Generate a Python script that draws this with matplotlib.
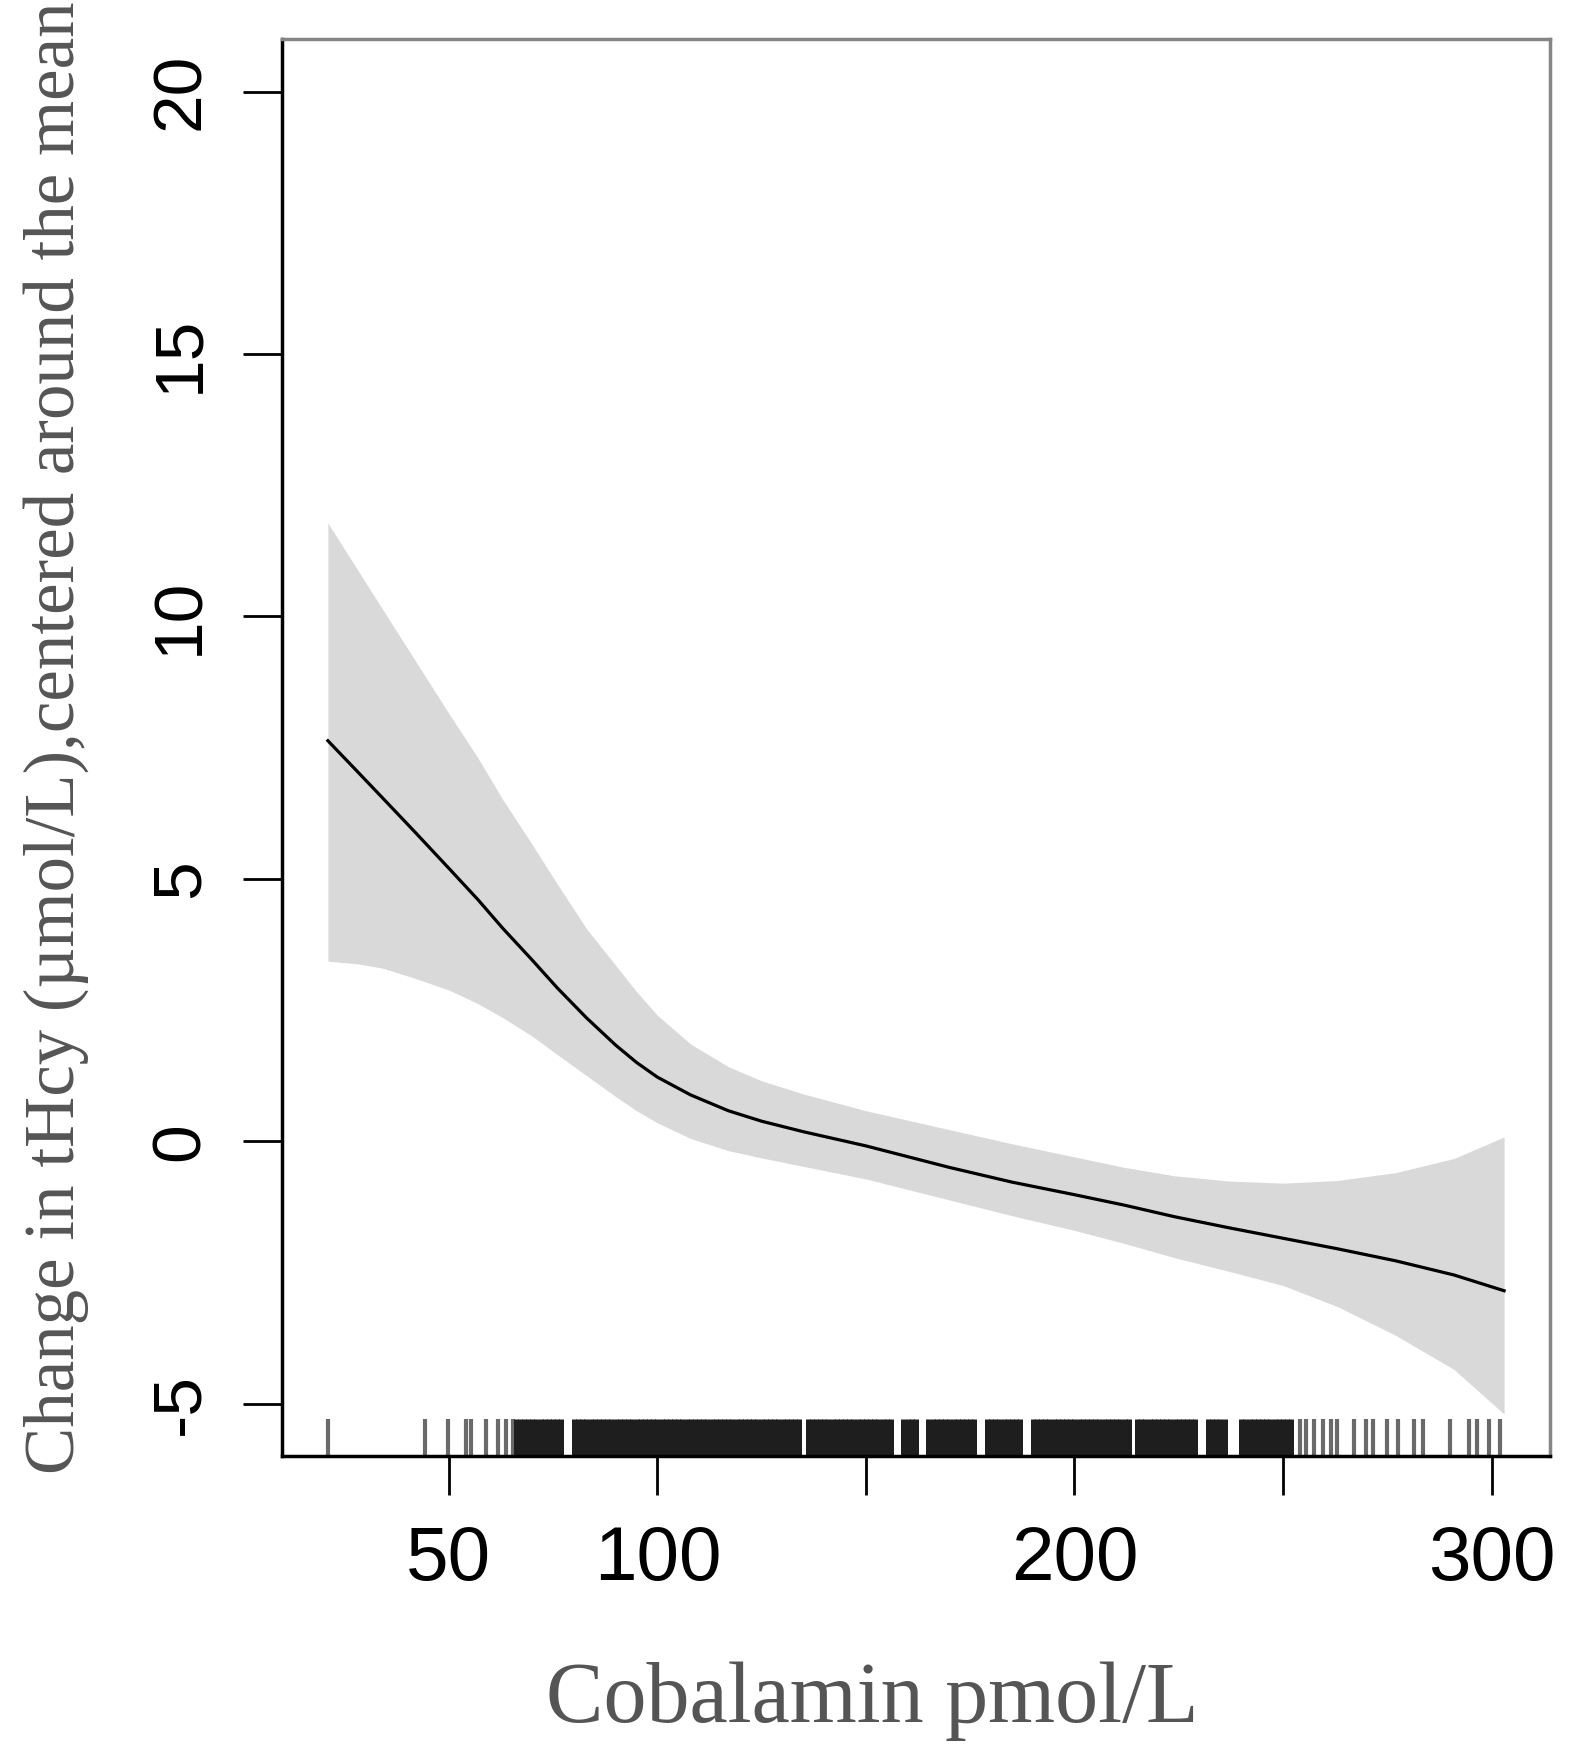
import matplotlib
matplotlib.use("Agg")
import matplotlib.pyplot as plt

# courbe ajustee et intervalle de confiance
cobalamine = [21, 28, 34, 42, 50, 57, 63, 70, 76, 83, 90, 95, 100, 108, 117, 125, 135, 150,
              170, 185, 200, 212, 224, 237, 250, 263, 277, 291, 303]
fit = [7.63, 7.05, 6.55, 5.88, 5.20, 4.60, 4.05, 3.45, 2.92, 2.35, 1.83, 1.50, 1.22, 0.88, 0.58,
       0.38, 0.18, -0.09, -0.50, -0.78, -1.02, -1.22, -1.44, -1.65, -1.85, -2.05, -2.28, -2.55, -2.85]
ic_haut = [11.78, 10.90, 10.15, 9.15, 8.15, 7.30, 6.50, 5.65, 4.90, 4.05, 3.35, 2.85, 2.40, 1.85,
           1.42, 1.15, 0.90, 0.58, 0.22, -0.05, -0.30, -0.50, -0.66, -0.76, -0.80, -0.75, -0.60,
           -0.33, 0.08]
ic_bas = [3.43, 3.38, 3.30, 3.10, 2.88, 2.62, 2.35, 2.00, 1.65, 1.25, 0.85, 0.58, 0.35, 0.05,
          -0.18, -0.32, -0.48, -0.72, -1.12, -1.42, -1.70, -1.95, -2.22, -2.48, -2.75, -3.15,
          -3.70, -4.35, -5.20]

# rug des observations
rug_isole = [21.0, 44.2, 49.7, 54.0, 55.3, 59.0, 61.7, 63.8, 65.5]
rug_dense = [66, 67, 68, 69, 70, 71, 72, 73, 74, 75, 76, 77, 80, 81, 82, 83, 84, 85, 86, 87, 88, 89,
             90, 91, 92, 93, 94, 95, 96, 97, 98, 99, 100, 101, 102, 103, 104, 105, 106, 107, 108, 109,
             110, 111, 112, 113, 114, 115, 116, 117, 118, 119, 120, 121, 122, 123, 124, 125, 126, 127,
             128, 129, 130, 131, 132, 133, 134, 136, 137, 138, 139, 140, 141, 142, 143, 144, 145, 146,
             147, 148, 149, 150, 151, 152, 153, 154, 155, 156, 159, 160, 161, 162, 165, 166, 167,
             168, 169, 170, 171, 172, 173, 174, 175, 176, 179, 180, 181, 182, 183, 184, 185, 186, 187,
             190, 191, 192, 193, 194, 195, 196, 197, 198, 199, 200, 201, 202, 203, 204, 205, 206, 207,
             208, 209, 210, 211, 212, 213, 215, 216, 217, 218, 219, 220, 221, 222, 223, 224, 225, 226,
             227, 228, 229, 232, 233, 234, 235, 236, 240, 241, 242, 243, 244, 245, 246, 247, 248, 249,
             250, 251, 252]
rug_queue = [254.0, 255.5, 257.5, 259.5, 261.5, 263.0, 267.0, 270.0, 271.5, 275.0, 277.5,
             281.5, 283.5, 290.0, 294.5, 296.5, 299.5, 302.0]

xticks = [50, 100, 150, 200, 250, 300]
xtick_labels = ["50", "100", "", "200", "", "300"]
yticks = [-5, 0, 5, 10, 15, 20]
ytick_labels = ["-5", "0", "5", "10", "15", "20"]

fig = plt.figure(figsize=(15.71, 17.53), dpi=100)
ax = fig.add_axes([0.1795, 0.1694, 0.8071, 0.8083])

ax.fill_between(cobalamine, ic_bas, ic_haut, color="#d9d9d9", linewidth=0)
ax.plot(cobalamine, fit, color="black", linewidth=2.3)

# rug : traits clairs pour les valeurs isolees, fonces pour la zone dense
ax.vlines(rug_isole + rug_queue, 0, 0.026, transform=ax.get_xaxis_transform(),
          color="#6a6a6a", linewidth=3.0)
ax.vlines(rug_dense, 0, 0.026, transform=ax.get_xaxis_transform(), color="#1e1e1e", linewidth=3.6)

ax.set_xlim(10, 314)
ax.set_ylim(-6, 21)

ax.set_xticks(xticks)
ax.set_xticklabels(xtick_labels, fontsize=55, family="Liberation Sans")
ax.set_yticks(yticks)
ax.set_yticklabels(ytick_labels, fontsize=50, family="Liberation Sans", rotation=90, va="center")
ax.tick_params(axis="x", length=28, width=2, pad=22)
ax.tick_params(axis="y", length=28, width=2, pad=22)

for s in ["left", "bottom"]:
    ax.spines[s].set_color("black")
    ax.spines[s].set_linewidth(2.5)
for s in ["top", "right"]:
    ax.spines[s].set_color("#858585")
    ax.spines[s].set_linewidth(2.5)

fig.text(0.555, 0.0177, "Cobalamin pmol/L", fontsize=62, family="Liberation Serif",
         color="#555555", ha="center", va="baseline")
fig.text(0.0356, 0.579, "Change in tHcy (µmol/L),centered around the mean", fontsize=51,
         family="Liberation Serif", color="#555555", rotation=90, ha="center", va="center")

fig.savefig("out.png", dpi=100)
